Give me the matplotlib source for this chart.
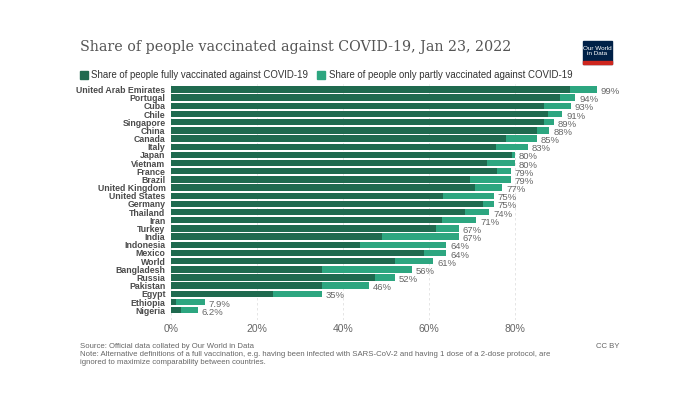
"""
Share of people vaccinated against COVID-19, Jan 23 2022 (OWID style stacked bars).
"""
import numpy as np
import matplotlib as mpl
import matplotlib.pyplot as plt
from matplotlib.patches import Rectangle

mpl.rcParams.update({"font.family": "Liberation Sans"})

countries = ["United Arab Emirates", "Portugal", "Cuba", "Chile", "Singapore",
             "China", "Canada", "Italy", "Japan", "Vietnam", "France", "Brazil",
             "United Kingdom", "United States", "Germany", "Thailand", "Iran",
             "Turkey", "India", "Indonesia", "Mexico", "World", "Bangladesh",
             "Russia", "Pakistan", "Egypt", "Ethiopia", "Nigeria"]
full = [92.8, 90.4, 86.7, 87.7, 86.7, 85.0, 78.0, 75.6, 79.2, 73.4, 75.7, 69.5,
        70.6, 63.3, 72.6, 68.4, 63.0, 61.6, 49.0, 44.0, 58.8, 52.0, 35.0, 47.5,
        35.0, 23.8, 1.2, 2.3]
total = [99, 94, 93, 91, 89, 88, 85, 83, 80, 80, 79, 79, 77, 75, 75, 74, 71,
         67, 67, 64, 64, 61, 56, 52, 46, 35, 7.9, 6.2]
partial = [t - f for t, f in zip(total, full)]
total_labels = [f"{t:g}%" for t in total]
xticks = [0, 20, 40, 60, 80]

DARK = "#1f6a4f"
LIGHT = "#2da680"
GREY = "#666666"
LABEL = "#4a4a4a"

fig = plt.figure(figsize=(7.0, 3.93), dpi=100)
W, H = 700, 393
ax = fig.add_axes([171 / W, 1 - 320 / H, 430 / W, 236 / H])

y = np.arange(len(countries))
ax.barh(y, full, height=0.78, color=DARK, zorder=3)
ax.barh(y, partial, left=full, height=0.78, color=LIGHT, zorder=3)
for yi, t, lab in zip(y, total, total_labels):
    ax.text(t + 0.9, yi + 0.25, lab, ha="left", va="center", fontsize=6.8,
            color=GREY, zorder=4)

ax.set_xlim(0, 100)
ax.set_ylim(28.2, -0.67)
ax.set_yticks(y)
ax.set_yticklabels(countries, fontsize=6.3, fontweight="bold", color=LABEL)
ax.set_xticks(xticks)
ax.set_xticklabels([f"{v}%" for v in xticks], fontsize=7.5, color=GREY)
ax.tick_params(axis="y", length=0, pad=4)
ax.tick_params(axis="x", length=0, pad=3)
for s in ax.spines.values():
    s.set_visible(False)
ax.grid(axis="x", color="#e0e0e0", linewidth=0.6, linestyle=(0, (3, 3)), zorder=0)

# title, legend
fig.text(80 / W, 1 - 47 / H, "Share of people vaccinated against COVID-19, Jan 23, 2022",
         family="DejaVu Serif", fontsize=10.3, color="#555555", va="center")
fig.patches.append(Rectangle((80 / W, 1 - 79 / H), 8 / W, 8 / H, color=DARK,
                             transform=fig.transFigure))
fig.text(91 / W, 1 - 75 / H, "Share of people fully vaccinated against COVID-19",
         fontsize=6.9, color="#333333", va="center")
fig.patches.append(Rectangle((317 / W, 1 - 79 / H), 8 / W, 8 / H, color=LIGHT,
                             transform=fig.transFigure))
fig.text(329 / W, 1 - 75 / H, "Share of people only partly vaccinated against COVID-19",
         fontsize=6.9, color="#333333", va="center")

# logo
fig.patches.append(Rectangle((583 / W, 1 - 64 / H), 29 / W, 23 / H, color="#002147",
                             transform=fig.transFigure))
fig.patches.append(Rectangle((583 / W, 1 - 64 / H), 29 / W, 2.5 / H, color="#ce261e",
                             transform=fig.transFigure))
fig.text(597.5 / W, 1 - 51 / H, "Our World\nin Data", fontsize=4.6, color="white",
         ha="center", va="center", linespacing=1.0)

# footer
fig.text(80 / W, 1 - 347 / H, "Source: Official data collated by Our World in Data",
         fontsize=5.6, color=GREY, va="center")
fig.text(80 / W, 1 - 355 / H,
         "Note: Alternative definitions of a full vaccination, e.g. having been infected with "
         "SARS-CoV-2 and having 1 dose of a 2-dose protocol, are",
         fontsize=5.6, color=GREY, va="center")
fig.text(80 / W, 1 - 363 / H, "ignored to maximize comparability between countries.",
         fontsize=5.6, color=GREY, va="center")
fig.text(620 / W, 1 - 347 / H, "CC BY", fontsize=5.6, color=GREY, va="center", ha="right")

fig.savefig("out.png", dpi=100)
